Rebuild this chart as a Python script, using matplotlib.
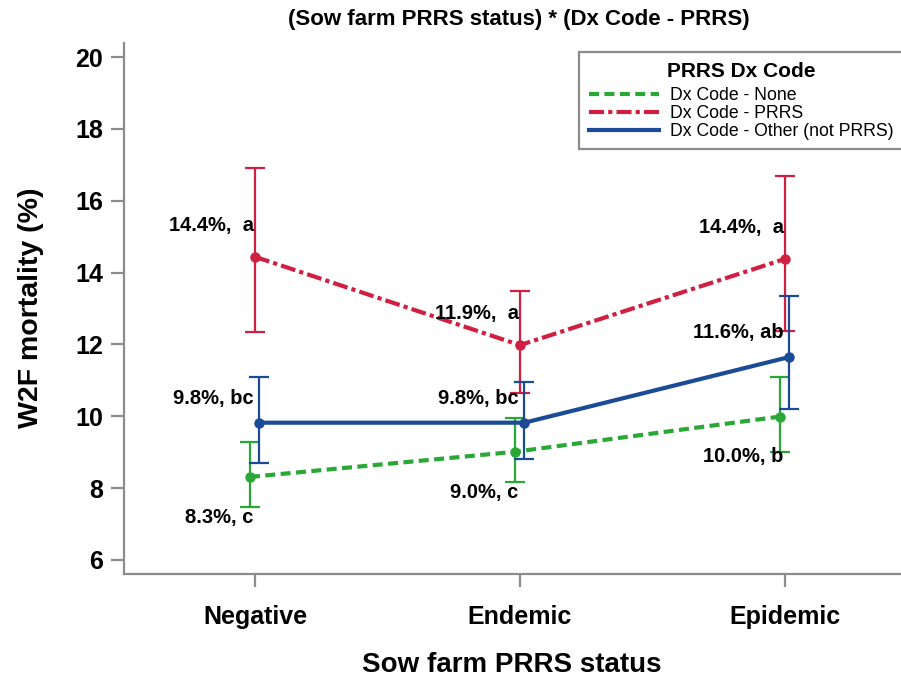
import matplotlib.pyplot as plt
import numpy as np

# Sow farm PRRS status categories
status = ['Negative', 'Endemic', 'Epidemic']

# Least-squares means and 95% CI of W2F mortality (%)
none_mean = [8.31, 9.01, 9.99]
none_lo = [7.48, 8.16, 9.01]
none_hi = [9.29, 9.94, 11.10]
none_text = ['8.3%, c', '9.0%, c', '10.0%, b']

prrs_mean = [14.44, 11.98, 14.38]
prrs_lo = [12.34, 10.66, 12.37]
prrs_hi = [16.91, 13.48, 16.69]
prrs_text = ['14.4%,  a', '11.9%,  a', '14.4%,  a']

other_mean = [9.82, 9.82, 11.65]
other_lo = [8.69, 8.81, 10.19]
other_hi = [11.08, 10.95, 13.36]
other_text = ['9.8%, bc', '9.8%, bc', '11.6%, ab']

plt.rcParams['font.family'] = ['Liberation Sans', 'DejaVu Sans']

green = '#2aa836'
red = '#d01f40'
blue = '#1b4a97'
grey = '#8c8c8c'

fig = plt.figure(figsize=(9.01, 6.84), dpi=100)
ax = fig.add_axes([0.138, 0.161, 0.862, 0.776])

x = np.arange(len(status))

# series: (mean, lo, hi, texts, colour, dodge, dashes, label, text offset in pt)
series = [
    (none_mean, none_lo, none_hi, none_text, green, -0.019, (2.4, 1.3), 'Dx Code - None', -29),
    (prrs_mean, prrs_lo, prrs_hi, prrs_text, red, 0.0, (3.6, 1.0, 1.0, 1.0), 'Dx Code - PRRS', 22.5),
    (other_mean, other_lo, other_hi, other_text, blue, 0.017, None, 'Dx Code - Other (not PRRS)', 17.5),
]

for mean, lo, hi, texts, col, dx, dashes, lab, off in series:
    xs = x + dx
    mean = np.array(mean)
    err = [mean - np.array(lo), np.array(hi) - mean]
    ln, = ax.plot(xs, mean, color=col, lw=3, label=lab)
    if dashes is not None:
        ln.set_dashes(dashes)
    ax.errorbar(xs, mean, yerr=err, fmt='o', color=col, ms=6.5,
                elinewidth=1.6, capsize=7, capthick=1.6)
    for xi, m, t in zip(x, mean, texts):
        ax.annotate(t, (xi, m), xytext=(-1, off), textcoords='offset points',
                    ha='right', va='center', fontsize=14.5, fontweight='bold')

ax.set_xlim(-0.493, 2.438)
ax.set_ylim(5.61, 20.39)
ax.set_yticks([6, 8, 10, 12, 14, 16, 18, 20])
ax.set_xticks(x)
ax.set_xticklabels(status)

for s in ['top', 'right']:
    ax.spines[s].set_visible(False)
for s in ['left', 'bottom']:
    ax.spines[s].set_color(grey)
    ax.spines[s].set_linewidth(1.6)

ax.tick_params(axis='both', colors=grey, labelcolor='black', width=1.6,
               length=9.5, labelsize=18)
ax.tick_params(axis='y', pad=6)
ax.tick_params(axis='x', pad=13)
for lbl in ax.get_xticklabels() + ax.get_yticklabels():
    lbl.set_fontweight('bold')

fig.text(0.034, 0.55, 'W2F mortality (%)', rotation=90, ha='center', va='center',
         fontsize=20.5, fontweight='bold')
fig.text(0.568, 0.028, 'Sow farm PRRS status', ha='center', va='center',
         fontsize=20, fontweight='bold')
fig.text(0.576, 0.972, '(Sow farm PRRS status) * (Dx Code - PRRS)', ha='center', va='center',
         fontsize=16, fontweight='bold')

leg = ax.legend(loc='upper left', bbox_to_anchor=(579 / 901, 1 - 52 / 684),
                bbox_transform=fig.transFigure, title='PRRS Dx Code',
                fontsize=12.7, handlelength=4.0, handletextpad=0.6,
                labelspacing=0.05, borderpad=0.55, borderaxespad=0,
                fancybox=False, framealpha=1, edgecolor=grey)
leg.get_title().set_fontweight('bold')
leg.get_title().set_fontsize(15)
leg.get_frame().set_linewidth(1.6)
leg._legend_box.sep = 4.5

fig.savefig('out.png', dpi=100)
